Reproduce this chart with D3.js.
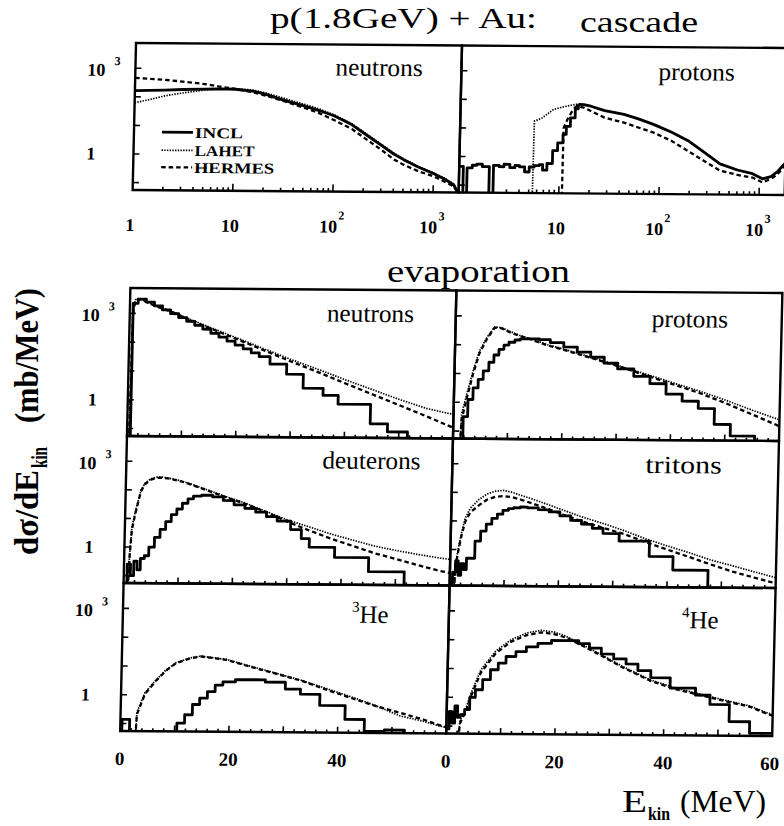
<!DOCTYPE html>
<html><head><meta charset="utf-8">
<script src="https://cdn.jsdelivr.net/npm/d3@7/dist/d3.min.js"></script>
<style>body{margin:0;background:#fff}svg{display:block}</style>
</head><body>
<svg id="c" width="784" height="826"></svg>
<script>
// ---------------- DATA (E in MeV, dσ/dE in mb/MeV; 0.001 = empty bin) ----------------
const seriesNames = ["INCL","LAHET","HERMES"];
const panelNames = ["neutrons","protons","neutrons","protons","deuterons","tritons","He","He"];
const logTickLabelsLeft = [1,10,100,1000];
const logTickLabelsRight = [10,100,1000];
const linTickLabelsLeft = [0,20,40];
const linTickLabelsRight = [0,20,40,60];
const yTickValues = [0.1,1,10,100,1000];

// cascade, neutrons (log E)
const casN_INCL = [[1,165],[2,175],[3,185],[5,195],[7,200],[10,195],[15,170],[20,135],[30,85],[50,52],[70,37],[100,24],[150,12],[200,6],[300,2.3],[400,1.15],[500,0.75],[700,0.42],[1000,0.25],[1300,0.16],[1600,0.1],[1800,0.05]];
const casN_LAHET = [[1,62],[1.5,85],[2,110],[3,140],[5,180],[7,200],[10,205],[15,185],[20,150],[30,100],[50,60],[70,42],[100,26],[150,13],[200,6.5],[300,2.5],[400,1.25],[500,0.8],[700,0.44],[1000,0.26],[1300,0.17],[1600,0.11],[1800,0.05]];
const casN_HERMES = [[1,457],[2,400],[3,350],[5,290],[7,240],[10,200],[15,155],[20,120],[30,80],[50,45],[70,30],[100,17],[150,8.5],[200,4.2],[300,1.6],[400,0.75],[500,0.5],[700,0.3],[1000,0.2],[1300,0.13],[1600,0.09],[1800,0.05]];
// cascade, protons (log E)
const casP_INCL_low = [[1,0.45],[1.1,0.001],[1.2,0.4],[1.35,0.5],[1.5,0.55],[1.7,0.45],[2.0,0.001],[2.2,0.5],[2.5,0.45],[2.8,0.55],[3.2,0.42],[3.6,0.5],[4.0,0.45],[4.5,0.3],[5.0,0.45],[5.6,0.5],[6.3,0.55],[6.8,0.35],[7.5,0.6],[8.5,1.7],[9.5,3.2],[10.7,6.3],[11.5,12],[12.6,24],[14,50],[15,72]];
const casP_INCL = [[15,72],[17,70],[20,62],[27.5,44],[43,33],[60,23],[85,15],[130,8],[190,4.1],[280,1.6],[400,0.65],[600,0.4],[850,0.3],[1070,0.2],[1300,0.24],[1500,0.35],[1780,0.7]];
const casP_LAHET = [[1,0.001],[5.4,0.001],[5.5,18],[6.5,23],[8.5,47],[11.5,62],[14.5,72],[17,70],[20,62],[27.5,44],[43,33],[60,23],[85,15],[130,8],[190,4.1],[280,1.6],[400,0.65],[600,0.4],[850,0.3],[1070,0.2],[1300,0.24],[1500,0.35],[1780,0.7]];
const casP_HERMES = [[1,0.001],[10.7,0.001],[10.8,10.7],[12,25],[13.5,50],[14.5,63],[17,55],[20,42],[27.5,25],[43,17],[60,11.5],[85,7.8],[130,4],[190,1.8],[280,0.8],[400,0.38],[600,0.27],[850,0.22],[1070,0.15],[1300,0.2],[1500,0.28],[1780,0.6]];
// evaporation, neutrons
const evN_INCL = [[0,0.001],[0.6,2240],[1.5,3160],[3,2500],[4.5,1860],[6,1350],[7.5,1000],[9,740],[10.5,550],[12,400],[13.5,295],[15,214],[16.5,158],[18,115],[19.5,85],[21,63],[22.5,46],[24,34],[26,19],[29.1,8.5],[32.2,2.8],[35.9,1.6],[38.7,0.8],[44.7,0.17],[47.9,0.09],[51.6,0.001],[60,0.001]];
const evN_LAHET = [[0.3,0.001],[0.6,1100],[1,3000],[1.5,3300],[2,3100],[3,2600],[5,1800],[7.5,1250],[10,780],[15,330],[20,145],[25,62],[30,27],[35,12.5],[40,5.6],[45,2.6],[50,1.2],[55,0.6],[58,0.45],[60,0.38]];
const evN_HERMES = [[0.3,0.001],[0.6,1000],[1,2800],[1.5,3160],[2,3000],[3,2500],[5,1740],[7.5,1200],[10,740],[15,310],[20,132],[25,55],[30,23],[35,10],[40,4.2],[45,1.78],[50,0.76],[55,0.32],[60,0.13]];
// evaporation, protons
const evP_INCL = [[0,0.001],[1.8,0.32],[2.6,1.26],[3.5,3.2],[4.4,6.3],[5.3,12.6],[6.3,25],[7.2,45],[8.1,71],[9,100],[9.9,126],[11,151],[12,166],[13.5,166],[15.5,158],[17.5,126],[20,89],[22.5,60],[25,40],[27.5,25],[30,16],[33,8.9],[36,5],[39,2.2],[42,1.26],[45,0.71],[48,0.2],[51,0.08],[55.5,0.001],[60,0.001]];
const evP_LAHET = [[1,0.001],[1.5,0.4],[2.5,2.5],[3.5,14],[4.5,60],[5.8,180],[7.2,420],[8.5,400],[10,300],[11.8,220],[14,165],[17,105],[20,75],[25,40],[30,21],[35,11],[40,5.6],[45,2.9],[50,1.4],[55,0.63],[60,0.3]];
const evP_HERMES = [[1,0.001],[1.5,0.25],[2.5,1.8],[3.5,11],[4.5,50],[5.8,158],[7.2,400],[8.5,380],[10,280],[11.8,210],[14,158],[17,100],[20,71],[25,38],[30,20],[35,10],[40,5],[45,2.5],[50,1.1],[55,0.45],[60,0.18]];
// evaporation, deuterons
const evD_INCL = [[0,0.001],[0.6,0.25],[1.2,0.1],[1.8,0.32],[2.4,0.16],[3,0.4],[3.7,0.5],[4.5,1],[5.5,2.2],[6.5,4.2],[7.5,7.9],[8.5,14],[9.5,22],[10.5,35],[11.5,50],[12.5,63],[14,68],[16,60],[18,45],[20,32],[22,24],[24,18],[26,12.6],[28,8.9],[30.5,4.5],[32.5,2.2],[34,1.1],[38.7,0.49],[45,0.16],[51.6,0.001],[60,0.001]];
const evD_LAHET = [[0.5,0.001],[1,0.6],[1.3,5],[1.8,15],[2.2,32],[2.8,95],[3.5,170],[4.5,240],[5.5,280],[6.5,285],[8,260],[10,215],[12,165],[15,105],[18.4,62],[22,37],[26,19],[30,9.5],[34,5.6],[38,3.2],[42,2],[46,1.26],[50,0.89],[54,0.66],[58,0.5],[60,0.45]];
const evD_HERMES = [[0.5,0.001],[1,0.5],[1.3,4],[1.8,12.6],[2.2,28],[2.8,89],[3.5,158],[4.5,224],[5.5,263],[6.5,269],[8,251],[10,209],[12,158],[15,100],[18.4,59],[22,35],[26,17.8],[30,8.3],[34,4.2],[38,2.2],[42,1.26],[46,0.71],[50,0.45],[54,0.28],[58,0.18],[60,0.15]];
// evaporation, tritons
const evT_INCL = [[0,0.001],[0.5,0.16],[1,0.4],[1.5,0.126],[2,0.32],[2.5,0.2],[3,0.5],[3.5,0.5],[4.5,2],[5.5,4.5],[6.5,7.9],[7.5,12.6],[8.5,17.8],[9.5,24],[10.5,28],[11.5,30],[12.7,32],[14,30],[16,26],[18,22],[20,16],[22,11.2],[24,8.3],[26,6],[28,4],[31,2.2],[36.6,0.65],[41,0.22],[47.5,0.001],[60,0.001]];
const evT_LAHET = [[0.5,0.001],[1,0.32],[1.5,1.26],[2,4],[2.6,12.6],[3.5,28],[5,56],[6.5,89],[8,112],[9.5,120],[11,105],[13,79],[15,60],[18,38],[21,24],[24,15],[28,8.9],[32,5],[36,2.6],[40,1.5],[44,0.89],[48,0.5],[52,0.32],[56,0.2],[60,0.126]];
const evT_HERMES = [[0.5,0.001],[1,0.25],[1.5,1],[2,3.2],[2.6,9.5],[3.5,20],[5,35],[6.5,56],[8,71],[9.5,76],[11,71],[13,56],[15,42],[18,27],[21,16.6],[24,10.5],[28,6.3],[32,3.8],[36,2],[40,1.12],[44,0.63],[48,0.35],[52,0.2],[56,0.126],[60,0.08]];
// evaporation, 3He
const ev3_INCL = [[0,0.001],[0.3,0.14],[1.7,0.001],[10.4,0.107],[11.8,0.21],[13.2,0.48],[14.5,0.8],[15.9,1.35],[17.3,2.3],[18.7,3],[21,3.6],[26.5,3],[30.2,1.74],[33,1.17],[36.6,0.48],[41.3,0.16],[44.9,0.063],[48.6,0.07],[52.3,0.001],[60,0.001]];
const ev3_LAHET = [[2.5,0.001],[3,0.25],[4.4,1.2],[6.3,3.2],[8.1,7.2],[10,13.5],[12.7,20],[14.5,23],[19.2,18],[23.8,10.5],[28.4,6.2],[33,3.6],[37.6,1.9],[42.2,1.0],[46.8,0.5],[51.4,0.22],[56,0.14],[58.7,0.1],[60,0.09]];
const ev3_HERMES = [[2.5,0.001],[3,0.21],[4.4,1.07],[6.3,3],[8.1,6.8],[10,12.9],[12.7,19.5],[14.5,22.4],[19.2,17.4],[23.8,10],[28.4,5.9],[33,3.5],[37.6,1.74],[42.2,0.91],[46.8,0.48],[51.4,0.28],[56,0.16],[58.7,0.107],[60,0.09]];
// evaporation, 4He
const ev4_INCL = [[0,0.08],[0.5,0.32],[1,0.126],[1.5,0.5],[2,0.2],[2.5,0.25],[3.3,0.38],[4.2,1],[5.2,1.86],[6.5,4.2],[7.9,9.3],[9.3,15.8],[10.7,27],[12.5,40],[14.4,59],[16.5,79],[19,100],[21.7,100],[24,79],[26,56],[28.2,35],[30.5,24],[32.8,16],[35,9.5],[37.4,5.4],[41,2.4],[45.7,1.38],[48.4,0.66],[52,0.17],[55.8,0.068],[60,0.068]];
const ev4_LAHET = [[1.5,0.001],[2.5,0.16],[3.5,0.4],[4.4,1.4],[6.1,9],[8.8,42],[11.6,105],[14.4,178],[17.1,224],[19.5,195],[21.7,140],[25,68],[28.2,33],[32,13.5],[37.4,4.5],[42,2.4],[46.6,1.5],[51,0.95],[55.8,0.6],[59,0.35],[60,0.3]];
const ev4_HERMES = [[1.5,0.001],[2.5,0.126],[3.5,0.32],[4.4,1.1],[6.1,7.2],[8.8,35],[11.6,89],[14.4,151],[17.1,190],[19.5,166],[21.7,126],[25,63],[28.2,31],[32,12.6],[37.4,4.2],[42,2.2],[46.6,1.38],[51,0.89],[55.8,0.56],[59,0.32],[60,0.28]];

// ---------------- LAYOUT ----------------
const FONT = '"Liberation Serif","Times New Roman",serif';
const svg = d3.select('#c');
const defs = svg.append('defs');
// scanned figure is slightly sheared: draw in a clean frame, then map
const root = svg.append('g').attr('transform','matrix(1,0.0077,-0.023,1,1,-1.05)');
const X0=136, XM=462, X1=788;
const TOP=[43,190];
const ROWS=[[288,436],[436,583],[583,731]];
const yDom=[0.055,7600];
const STY = {
  INCL:{w:2.8,dash:null},
  LAHET:{w:1.7,dash:'1.4,1.3'},
  HERMES:{w:2.3,dash:'4.5,3'}
};

const panels = [
  {x0:X0,x1:XM,y0:TOP[0],y1:TOP[1],type:'log',name:panelNames[0],lx:336,ly:74,
   series:[{n:'LAHET',d:casN_LAHET},{n:'HERMES',d:casN_HERMES},{n:'INCL',d:casN_INCL}]},
  {x0:XM,x1:X1,y0:TOP[0],y1:TOP[1],type:'log',name:panelNames[1],lx:659,ly:76,
   series:[{n:'LAHET',d:casP_LAHET},{n:'HERMES',d:casP_HERMES},{n:'INCL',d:casP_INCL_low,step:true},{n:'INCL',d:casP_INCL}]},
  {x0:X0,x1:XM,y0:ROWS[0][0],y1:ROWS[0][1],type:'lin',name:panelNames[2],lx:333,ly:320,
   series:[{n:'LAHET',d:evN_LAHET},{n:'HERMES',d:evN_HERMES},{n:'INCL',d:evN_INCL,step:true}]},
  {x0:XM,x1:X1,y0:ROWS[0][0],y1:ROWS[0][1],type:'lin',name:panelNames[3],lx:658,ly:323,
   series:[{n:'LAHET',d:evP_LAHET},{n:'HERMES',d:evP_HERMES},{n:'INCL',d:evP_INCL,step:true}]},
  {x0:X0,x1:XM,y0:ROWS[1][0],y1:ROWS[1][1],type:'lin',name:panelNames[4],lx:332,ly:467,
   series:[{n:'LAHET',d:evD_LAHET},{n:'HERMES',d:evD_HERMES},{n:'INCL',d:evD_INCL,step:true}]},
  {x0:XM,x1:X1,y0:ROWS[1][0],y1:ROWS[1][1],type:'lin',name:panelNames[5],lx:655,ly:469,
   series:[{n:'LAHET',d:evT_LAHET},{n:'HERMES',d:evT_HERMES},{n:'INCL',d:evT_INCL,step:true}]},
  {x0:X0,x1:XM,y0:ROWS[2][0],y1:ROWS[2][1],type:'lin',name:panelNames[6],sup:'3',lx:365,ly:621,
   series:[{n:'LAHET',d:ev3_LAHET},{n:'HERMES',d:ev3_HERMES},{n:'INCL',d:ev3_INCL,step:true}]},
  {x0:XM,x1:X1,y0:ROWS[2][0],y1:ROWS[2][1],type:'lin',name:panelNames[7],sup:'4',lx:695,ly:624,
   series:[{n:'LAHET',d:ev4_LAHET},{n:'HERMES',d:ev4_HERMES},{n:'INCL',d:ev4_INCL,step:true}]}
];

panels.forEach((p,i)=>{
  const x = p.type==='log' ? d3.scaleLog().domain([1,1800]).range([p.x0,p.x1])
                           : d3.scaleLinear().domain([0,60]).range([p.x0,p.x1]);
  const y = d3.scaleLog().domain(yDom).range([p.y1,p.y0]);
  p.x=x; p.y=y;
  const id='clip'+i;
  defs.append('clipPath').attr('id',id).append('rect')
    .attr('x',p.x0).attr('y',p.y0).attr('width',p.x1-p.x0).attr('height',p.y1-p.y0);
  const gl = root.append('g').attr('clip-path',`url(#${id})`);
  p.series.forEach(s=>{
    const line = d3.line().x(d=>x(d[0])).y(d=>y(Math.max(d[1],1e-4)))
      .curve(s.step?d3.curveStepAfter:d3.curveLinear);
    gl.append('path').attr('d',line(s.d)).attr('fill','none').attr('stroke','#000')
      .attr('stroke-width',STY[s.n].w).attr('stroke-dasharray',STY[s.n].dash)
      .attr('stroke-linejoin','round');
  });
  // ticks
  const gt = root.append('g').attr('stroke','#000').attr('stroke-width',1.6);
  yTickValues.forEach(v=>{
    gt.append('line').attr('x1',p.x0).attr('x2',p.x0+6).attr('y1',y(v)).attr('y2',y(v));
  });
  if(p.type==='log'){
    [1,10,100,1000].forEach(dec=>{
      for(let k=1;k<10;k++){
        const v=dec*k; if(v>1800||v===1) continue;
        const len = k===1?7:3.5;
        gt.append('line').attr('x1',x(v)).attr('x2',x(v)).attr('y1',p.y1).attr('y2',p.y1-len);
      }
    });
  } else {
    d3.range(2,60,2).forEach(v=>{
      const len = v%10===0?6:3;
      gt.append('line').attr('x1',x(v)).attr('x2',x(v)).attr('y1',p.y1).attr('y2',p.y1-len);
    });
  }
  // frame
  root.append('rect').attr('x',p.x0).attr('y',p.y0).attr('width',p.x1-p.x0).attr('height',p.y1-p.y0)
    .attr('fill','none').attr('stroke','#000').attr('stroke-width',2.4);
  // panel label
  const t = root.append('text').attr('x',p.lx).attr('y',p.ly).attr('font-family',FONT).attr('font-size',25);
  if(p.sup){
    t.append('tspan').attr('font-size',15).attr('dy',-11).text(p.sup);
    t.append('tspan').attr('dy',11).text(p.name);
  } else {
    t.text(p.name).attr('textLength',p.name.length*10.9).attr('lengthAdjust','spacingAndGlyphs');
  }
});

// y tick labels (one set per row, on the left)
[TOP, ...ROWS].forEach((r,ri)=>{
  const y = d3.scaleLog().domain(yDom).range([r[1],r[0]]);
  const g = root.append('g').attr('font-family',FONT).attr('font-weight','bold');
  g.append('text').attr('x',88).attr('y',y(1000)+8).attr('font-size',18).text('10');
  g.append('text').attr('x',115).attr('y',y(1000)-3).attr('font-size',12).text('3');
  g.append('text').attr('x',ri===0?89:96).attr('y',y(1)+6).attr('font-size',18).text('1');
});

// x tick labels
function logLabel(g,xs,v){
  const e=Math.round(Math.log10(v));
  if(e<=1){
    g.append('text').attr('x',xs(v)-2).attr('y',231).attr('text-anchor','middle').attr('font-size',18).text(String(v));
  } else {
    g.append('text').attr('x',xs(v)-4).attr('y',231).attr('text-anchor','middle').attr('font-size',18).text('10');
    g.append('text').attr('x',xs(v)+6).attr('y',218).attr('font-size',12).text(String(e));
  }
}
{
  const g = root.append('g').attr('font-family',FONT).attr('font-weight','bold');
  logTickLabelsLeft.forEach(v=>logLabel(g,panels[0].x,v));
  logTickLabelsRight.forEach(v=>logLabel(g,panels[1].x,v));
  linTickLabelsLeft.forEach(v=>g.append('text').attr('x',panels[6].x(v)).attr('y',765)
    .attr('text-anchor','middle').attr('font-size',19).text(String(v)));
  linTickLabelsRight.forEach(v=>g.append('text').attr('x',panels[7].x(v)-(v===60?2:0)).attr('y',765)
    .attr('text-anchor','middle').attr('font-size',19).text(String(v)));
}

// legend (cascade neutrons panel)
{
  const g = root.append('g');
  const ly=[132,150,167], tw=[48,60,80];
  seriesNames.forEach((n,i)=>{
    g.append('line').attr('x1',164).attr('x2',195).attr('y1',ly[i]).attr('y2',ly[i])
      .attr('stroke','#000').attr('stroke-width',STY[n].w).attr('stroke-dasharray',STY[n].dash);
    g.append('text').attr('x',197).attr('y',ly[i]+5.5).attr('font-family',FONT).attr('font-weight','bold')
      .attr('font-size',15).attr('textLength',tw[i]).attr('lengthAdjust','spacingAndGlyphs').text(n);
  });
}

// section titles
svg.append('text').attr('x',270).attr('y',28).attr('font-family',FONT).attr('font-size',30)
  .attr('textLength',267).attr('lengthAdjust','spacingAndGlyphs').text('p(1.8GeV) + Au:');
svg.append('text').attr('x',580).attr('y',32).attr('font-family',FONT).attr('font-size',30)
  .attr('textLength',118).attr('lengthAdjust','spacingAndGlyphs').text('cascade');
svg.append('text').attr('x',387).attr('y',282).attr('font-family',FONT).attr('font-size',31)
  .attr('textLength',183).attr('lengthAdjust','spacingAndGlyphs').text('evaporation');

// y-axis title (rotated)
{
  const g = svg.append('g').attr('transform','translate(38,555) scale(1.15,1) rotate(-90)')
    .attr('font-family',FONT).attr('font-weight','bold');
  g.append('text').attr('x',0).attr('y',0).attr('font-size',30)
    .attr('textLength',85).attr('lengthAdjust','spacingAndGlyphs').text('dσ/dE');
  g.append('text').attr('x',87).attr('y',8).attr('font-size',20)
    .attr('textLength',21).attr('lengthAdjust','spacingAndGlyphs').text('kin');
  g.append('text').attr('x',132).attr('y',0).attr('font-size',30)
    .attr('textLength',135).attr('lengthAdjust','spacingAndGlyphs').text('(mb/MeV)');
}
// x-axis title
{
  const g = svg.append('g').attr('font-family',FONT);
  g.append('text').attr('x',622).attr('y',812).attr('font-size',31)
    .attr('textLength',25).attr('lengthAdjust','spacingAndGlyphs').text('E');
  g.append('text').attr('x',648).attr('y',820).attr('font-size',19).attr('font-weight','bold')
    .attr('textLength',22).attr('lengthAdjust','spacingAndGlyphs').text('kin');
  g.append('text').attr('x',680).attr('y',812).attr('font-size',31)
    .attr('textLength',86).attr('lengthAdjust','spacingAndGlyphs').text('(MeV)');
}
</script>
</body></html>
